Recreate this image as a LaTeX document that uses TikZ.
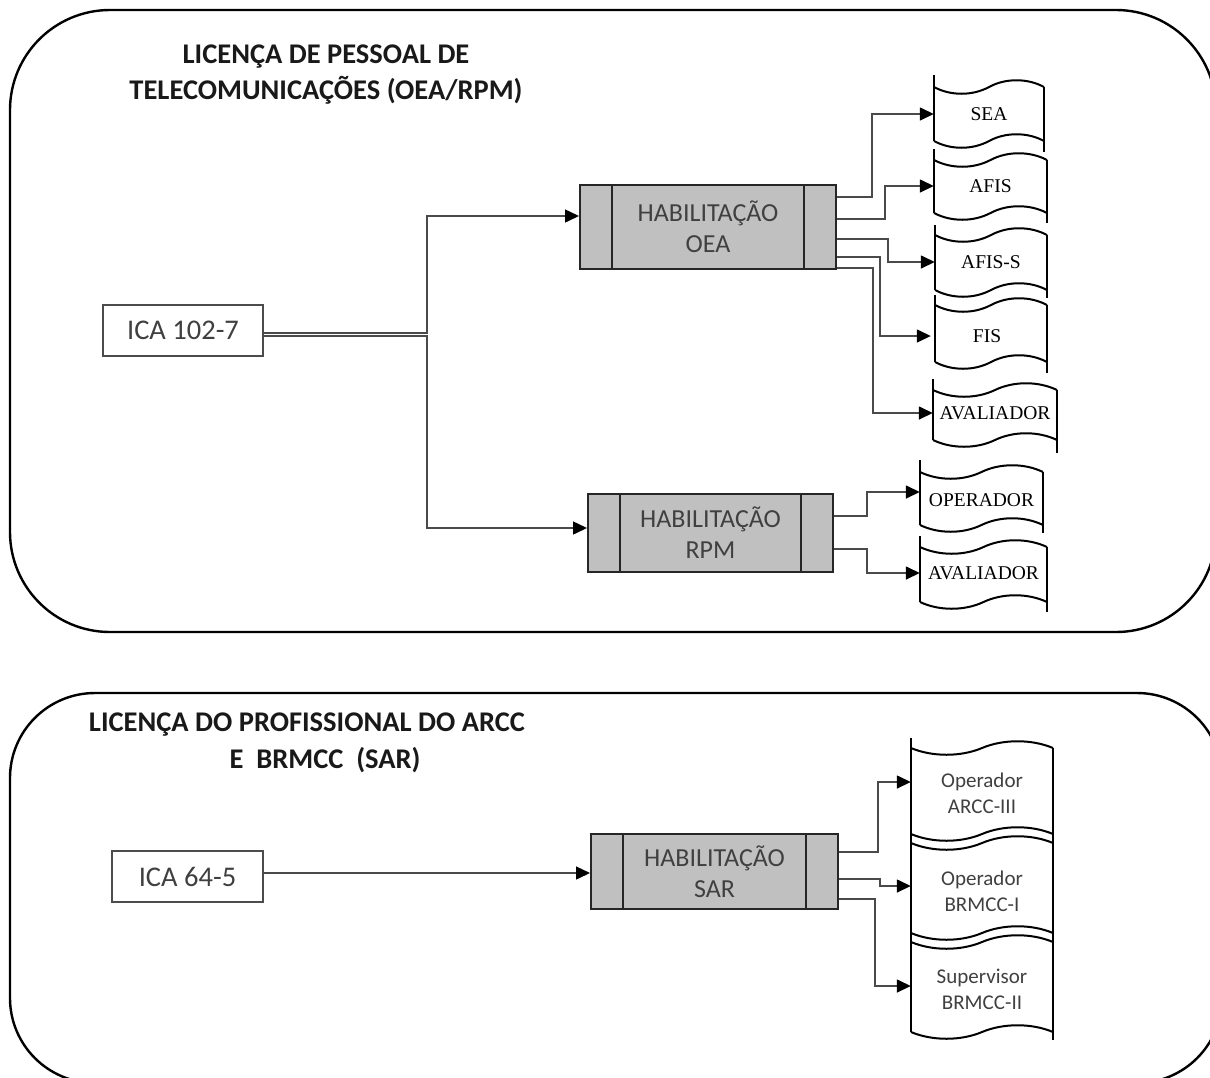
\documentclass[tikz,border=0pt]{standalone}
\usepackage{fontspec}
\setmainfont{Carlito}
\newfontfamily\serif{Liberation Serif}
\usetikzlibrary{arrows.meta}
\definecolor{boxgray}{HTML}{C0C0C0}
\definecolor{txt}{HTML}{404040}
\definecolor{connc}{HTML}{4A4A4A}
\tikzset{
  frameline/.style={draw=black, line width=2.4pt},
  procbox/.style={draw=black!85, line width=2pt, fill=boxgray, text=txt,
    font=\fontsize{26}{31}\selectfont, align=center, inner sep=0pt,
    path picture={\draw[line width=2pt, black!85]
      ([xshift=32pt]path picture bounding box.north west) -- ([xshift=32pt]path picture bounding box.south west)
      ([xshift=-32pt]path picture bounding box.north east) -- ([xshift=-32pt]path picture bounding box.south east);}},
  srcbox/.style={draw=black!70, line width=1.5pt, fill=white, text=txt,
    font=\fontsize{28.5}{30}\selectfont, inner sep=0pt},
  tapetxt/.style={inner sep=0pt, font=\serif\fontsize{19.5}{22}\selectfont},
  sartxt/.style={inner sep=0pt, align=center, font=\fontsize{21}{26}\selectfont, text=txt},
  connector/.style={draw=connc, line width=1.5pt, -{Triangle[length=14pt,width=13pt,color=black]}},
  tapeline/.style={draw=black, line width=2pt},
  titletext/.style={font=\bfseries\fontsize{28.5}{36}\selectfont, text=black!90, align=center, inner sep=0pt}
}
\newcommand\wavepath[3]{%
  \draw[tapeline] (#1,#3) .. controls ({#1+0.15*(#2-#1)},{#3+9}) and ({#1+0.35*(#2-#1)},{#3+9}) .. ({(#1+#2)/2},#3)
    .. controls ({#1+0.65*(#2-#1)},{#3-9}) and ({#1+0.85*(#2-#1)},{#3-9}) .. (#2,#3);}
\newcommand\tapeshape[6]{%
  \draw[tapeline] (#1,#3) -- (#1,#5);
  \draw[tapeline] (#2,#4) -- (#2,#6);
  \wavepath{#1}{#2}{#4}\wavepath{#1}{#2}{#5}}
\begin{document}
\begin{tikzpicture}[x=1pt,y=-1pt]
\useasboundingbox (0,0) rectangle (1210,1077);
\clip (0,0) rectangle (1210,1077);
% frames
\draw[frameline, rounded corners=100pt] (10,10) rectangle (1216,632);
\draw[frameline, rounded corners=85pt] (10,693) rectangle (1222,1083);
% titles
\node[titletext] (title1) at (326,74.5) {LICENÇA DE PESSOAL DE\\TELECOMUNICAÇÕES (OEA/RPM)};
\node[titletext] (title2a) at (307,725) {LICENÇA DO PROFISSIONAL DO ARCC};
\node[titletext] (title2b) at (325,760) {E~~BRMCC~~(SAR)};
% source boxes
\node[srcbox, minimum width=160pt, minimum height=51pt] (ica1) at (183,330.5) {ICA 102-7};
\node[srcbox, minimum width=151pt, minimum height=51pt] (ica2) at (187.5,876.5) {ICA 64-5};
% process boxes
\node[procbox, minimum width=256pt, minimum height=84pt] (oea) at (708,227) {HABILITAÇÃO\\OEA};
\node[procbox, minimum width=245pt, minimum height=78pt] (rpm) at (710.5,533) {HABILITAÇÃO\\RPM};
\node[procbox, minimum width=247pt, minimum height=75pt] (sar) at (714.5,871.5) {HABILITAÇÃO\\SAR};
% tapes (upper)
\tapeshape{934}{1044}{75}{87}{141}{152}
\tapeshape{934}{1047}{149}{160}{213}{223}
\tapeshape{935}{1047}{225}{235}{290}{298}
\tapeshape{935}{1047}{295}{305}{362}{373}
\tapeshape{933}{1057}{379}{390}{440}{453}
\tapeshape{920}{1043}{460}{472}{525}{533}
\tapeshape{920}{1047}{536}{547}{602}{612}
\node[tapetxt, minimum width=110pt] (sea) at (989,114) {SEA};
\node[tapetxt, minimum width=113pt] (afis) at (990.5,186) {AFIS};
\node[tapetxt, minimum width=112pt] (afiss) at (991,262) {AFIS-S};
\node[tapetxt, minimum width=112pt] (fis) at (987,336) {FIS};
\node[tapetxt, minimum width=124pt] (aval1) at (995,413) {AVALIADOR};
\node[tapetxt, minimum width=123pt] (oper) at (981.5,500) {OPERADOR};
\node[tapetxt, minimum width=127pt] (aval2) at (983.5,573) {AVALIADOR};
% tapes (SAR)
\draw[tapeline] (911,738) -- (911,1032);
\draw[tapeline] (1053,748) -- (1053,1040);
\wavepath{911}{1053}{748}
\wavepath{911}{1053}{834}
\wavepath{911}{1053}{843}
\wavepath{911}{1053}{933}
\wavepath{911}{1053}{942}
\wavepath{911}{1053}{1032}
\node[sartxt, minimum width=142pt] (s1) at (982,793) {Operador\\ARCC-III};
\node[sartxt, minimum width=142pt] (s2) at (982,891) {Operador\\BRMCC-I};
\node[sartxt, minimum width=142pt] (s3) at (982,989) {Supervisor\\BRMCC-II};
% connectors
\draw[connector] (ica1.east |- 0,333) -- ++(163,0) |- ([yshift=11pt]oea.west);
\draw[connector] (ica1.east |- 0,336) -- ++(163,0) |- ([yshift=5pt]rpm.west);
\draw[connector] (ica2.east |- 0,873) -- (sar.west |- 0,873);
\draw[connector] (oea.east |- 0,197) -- ++(35,0) |- (sea.west);
\draw[connector] (oea.east |- 0,219) -- ++(48,0) |- (afis.west);
\draw[connector] (oea.east |- 0,239) -- ++(51,0) |- (afiss.west);
\draw[connector] (oea.east |- 0,257) -- ++(43,0) |- (fis.west);
\draw[connector] (oea.east |- 0,268) -- ++(36,0) |- (aval1.west);
\draw[connector] (rpm.east |- 0,516) -- ++(33,0) |- ([yshift=8pt]oper.west);
\draw[connector] (rpm.east |- 0,549) -- ++(33,0) |- (aval2.west);
\draw[connector] (sar.east |- 0,852) -- ++(39,0) |- ([yshift=11pt]s1.west);
\draw[connector] (sar.east |- 0,879) -- ++(41,0) |- ([yshift=5pt]s2.west);
\draw[connector] (sar.east |- 0,899) -- ++(36,0) |- ([yshift=3pt]s3.west);
\end{tikzpicture}
\end{document}
